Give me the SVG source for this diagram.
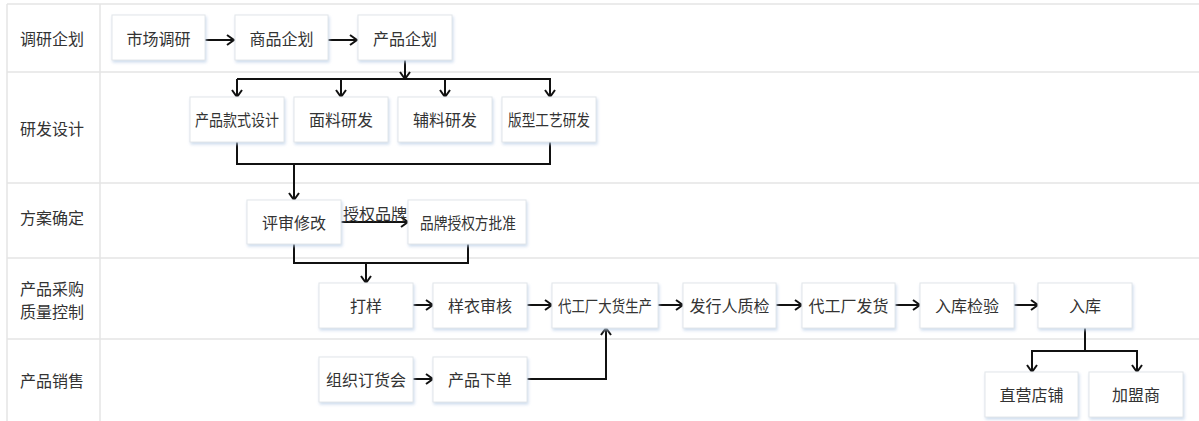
<svg xmlns="http://www.w3.org/2000/svg" width="1199" height="421" viewBox="0 0 1199 421">
  <defs>
    <style>
      .grid { stroke: #e4e4e4; stroke-width: 1.5; fill: none; }
      .lane { font-family: "Noto Sans CJK SC", "Liberation Sans", sans-serif; font-size: 16px; fill: #333; text-anchor: middle; dominant-baseline: central; }
      .box { fill: #ffffff; stroke: #e2e6ea; stroke-width: 1; filter: url(#sh); }
      .lbl { font-family: "Noto Sans CJK SC", "Liberation Sans", sans-serif; font-size: 16px; fill: #333; text-anchor: middle; dominant-baseline: central; }
      .edge { stroke: #111; stroke-width: 2; fill: none; }
    </style>
    <filter id="sh" x="-10%" y="-10%" width="130%" height="140%">
      <feDropShadow dx="1" dy="2" stdDeviation="1.5" flood-color="#b9cde6" flood-opacity="0.7"/>
    </filter>
    <marker id="arr" viewBox="0 0 10 12" refX="9" refY="6" markerWidth="10" markerHeight="12" markerUnits="userSpaceOnUse" orient="auto">
      <path d="M2,1 L9,6 L2,11" fill="none" stroke="#111" stroke-width="2"/>
    </marker>
  </defs>
  <rect x="0" y="0" width="1199" height="421" fill="#ffffff"/>

  <g id="lanes">
    <line class="grid" x1="7" y1="4" x2="1199" y2="4"/>
    <line class="grid" x1="7" y1="72" x2="1199" y2="72"/>
    <line class="grid" x1="7" y1="183" x2="1199" y2="183"/>
    <line class="grid" x1="7" y1="258" x2="1199" y2="258"/>
    <line class="grid" x1="7" y1="339" x2="1199" y2="339"/>
    <line class="grid" x1="7" y1="4" x2="7" y2="421"/>
    <line class="grid" x1="100" y1="4" x2="100" y2="421"/>
    <text class="lane" x="52" y="38">调研企划</text>
    <text class="lane" x="52" y="128">研发设计</text>
    <text class="lane" x="52" y="217">方案确定</text>
    <text class="lane" x="52" y="288">产品采购</text>
    <text class="lane" x="52" y="311">质量控制</text>
    <text class="lane" x="52" y="380">产品销售</text>
  </g>

  <g id="connectors">
    <path class="edge" d="M205,40 H234" marker-end="url(#arr)"/>
    <path class="edge" d="M328,40 H357" marker-end="url(#arr)"/>
    <path class="edge" d="M405,60 V79" marker-end="url(#arr)"/>
    <path class="edge" d="M237,79 H550"/>
    <path class="edge" d="M237,79 V97" marker-end="url(#arr)"/>
    <path class="edge" d="M341,79 V97" marker-end="url(#arr)"/>
    <path class="edge" d="M445,79 V97" marker-end="url(#arr)"/>
    <path class="edge" d="M550,78 V97" marker-end="url(#arr)"/>
    <path class="edge" d="M237,142 V164 H550 V141"/>
    <path class="edge" d="M294,164 V200" marker-end="url(#arr)"/>
    <path class="edge" d="M341,222 H408" marker-end="url(#arr)"/>
    <text class="lbl" x="375" y="213">授权品牌</text>
    <path class="edge" d="M294,244 V263 H468 V244"/>
    <path class="edge" d="M366,263 V283" marker-end="url(#arr)"/>
    <path class="edge" d="M413,305 H433" marker-end="url(#arr)"/>
    <path class="edge" d="M527,305 H552" marker-end="url(#arr)"/>
    <path class="edge" d="M658,305 H683" marker-end="url(#arr)"/>
    <path class="edge" d="M776,305 H802" marker-end="url(#arr)"/>
    <path class="edge" d="M895,305 H920" marker-end="url(#arr)"/>
    <path class="edge" d="M1014,305 H1038" marker-end="url(#arr)"/>
    <path class="edge" d="M413,379 H433" marker-end="url(#arr)"/>
    <path class="edge" d="M527,379 H606 V328" marker-end="url(#arr)"/>
    <path class="edge" d="M1085,328 V351"/>
    <path class="edge" d="M1032,351 H1137"/>
    <path class="edge" d="M1032,350 V372" marker-end="url(#arr)"/>
    <path class="edge" d="M1137,350 V372" marker-end="url(#arr)"/>
  </g>

  <g id="n-market"><rect class="box" x="112" y="15" width="93" height="45"/><text class="lbl" x="158.5" y="38">市场调研</text></g>
  <g id="n-goods"><rect class="box" x="235" y="15" width="93" height="45"/><text class="lbl" x="281.5" y="38">商品企划</text></g>
  <g id="n-product"><rect class="box" x="358" y="15" width="94" height="45"/><text class="lbl" x="405" y="38">产品企划</text></g>

  <g id="n-style"><rect class="box" x="190" y="97" width="94" height="45"/><text class="lbl" x="237" y="119" textLength="84" lengthAdjust="spacingAndGlyphs">产品款式设计</text></g>
  <g id="n-fabric"><rect class="box" x="294" y="97" width="94" height="45"/><text class="lbl" x="341" y="119">面料研发</text></g>
  <g id="n-trim"><rect class="box" x="398" y="97" width="94" height="45"/><text class="lbl" x="445" y="119">辅料研发</text></g>
  <g id="n-pattern"><rect class="box" x="502" y="97" width="94" height="45"/><text class="lbl" x="549" y="119" textLength="82" lengthAdjust="spacingAndGlyphs">版型工艺研发</text></g>

  <g id="n-review"><rect class="box" x="247" y="200" width="94" height="44"/><text class="lbl" x="294" y="222">评审修改</text></g>
  <g id="n-approve"><rect class="box" x="408" y="200" width="118" height="44"/><text class="lbl" x="468" y="222" textLength="96" lengthAdjust="spacingAndGlyphs">品牌授权方批准</text></g>

  <g id="n-sample"><rect class="box" x="319" y="283" width="94" height="45"/><text class="lbl" x="366" y="305">打样</text></g>
  <g id="n-sampleaudit"><rect class="box" x="433" y="283" width="94" height="45"/><text class="lbl" x="480" y="305">样衣审核</text></g>
  <g id="n-mass"><rect class="box" x="552" y="283" width="106" height="45"/><text class="lbl" x="605" y="305" textLength="94" lengthAdjust="spacingAndGlyphs">代工厂大货生产</text></g>
  <g id="n-qc"><rect class="box" x="683" y="283" width="93" height="45"/><text class="lbl" x="729.5" y="305">发行人质检</text></g>
  <g id="n-ship"><rect class="box" x="802" y="283" width="93" height="45"/><text class="lbl" x="848.5" y="305">代工厂发货</text></g>
  <g id="n-inspect"><rect class="box" x="920" y="283" width="94" height="45"/><text class="lbl" x="967" y="305">入库检验</text></g>
  <g id="n-store"><rect class="box" x="1038" y="283" width="94" height="45"/><text class="lbl" x="1085" y="305">入库</text></g>

  <g id="n-fair"><rect class="box" x="319" y="357" width="94" height="45"/><text class="lbl" x="366" y="379">组织订货会</text></g>
  <g id="n-order"><rect class="box" x="433" y="357" width="94" height="45"/><text class="lbl" x="480" y="379">产品下单</text></g>

  <g id="n-direct"><rect class="box" x="985" y="372" width="93" height="45"/><text class="lbl" x="1031.5" y="394">直营店铺</text></g>
  <g id="n-franchise"><rect class="box" x="1089" y="372" width="94" height="45"/><text class="lbl" x="1136" y="394">加盟商</text></g>
</svg>
